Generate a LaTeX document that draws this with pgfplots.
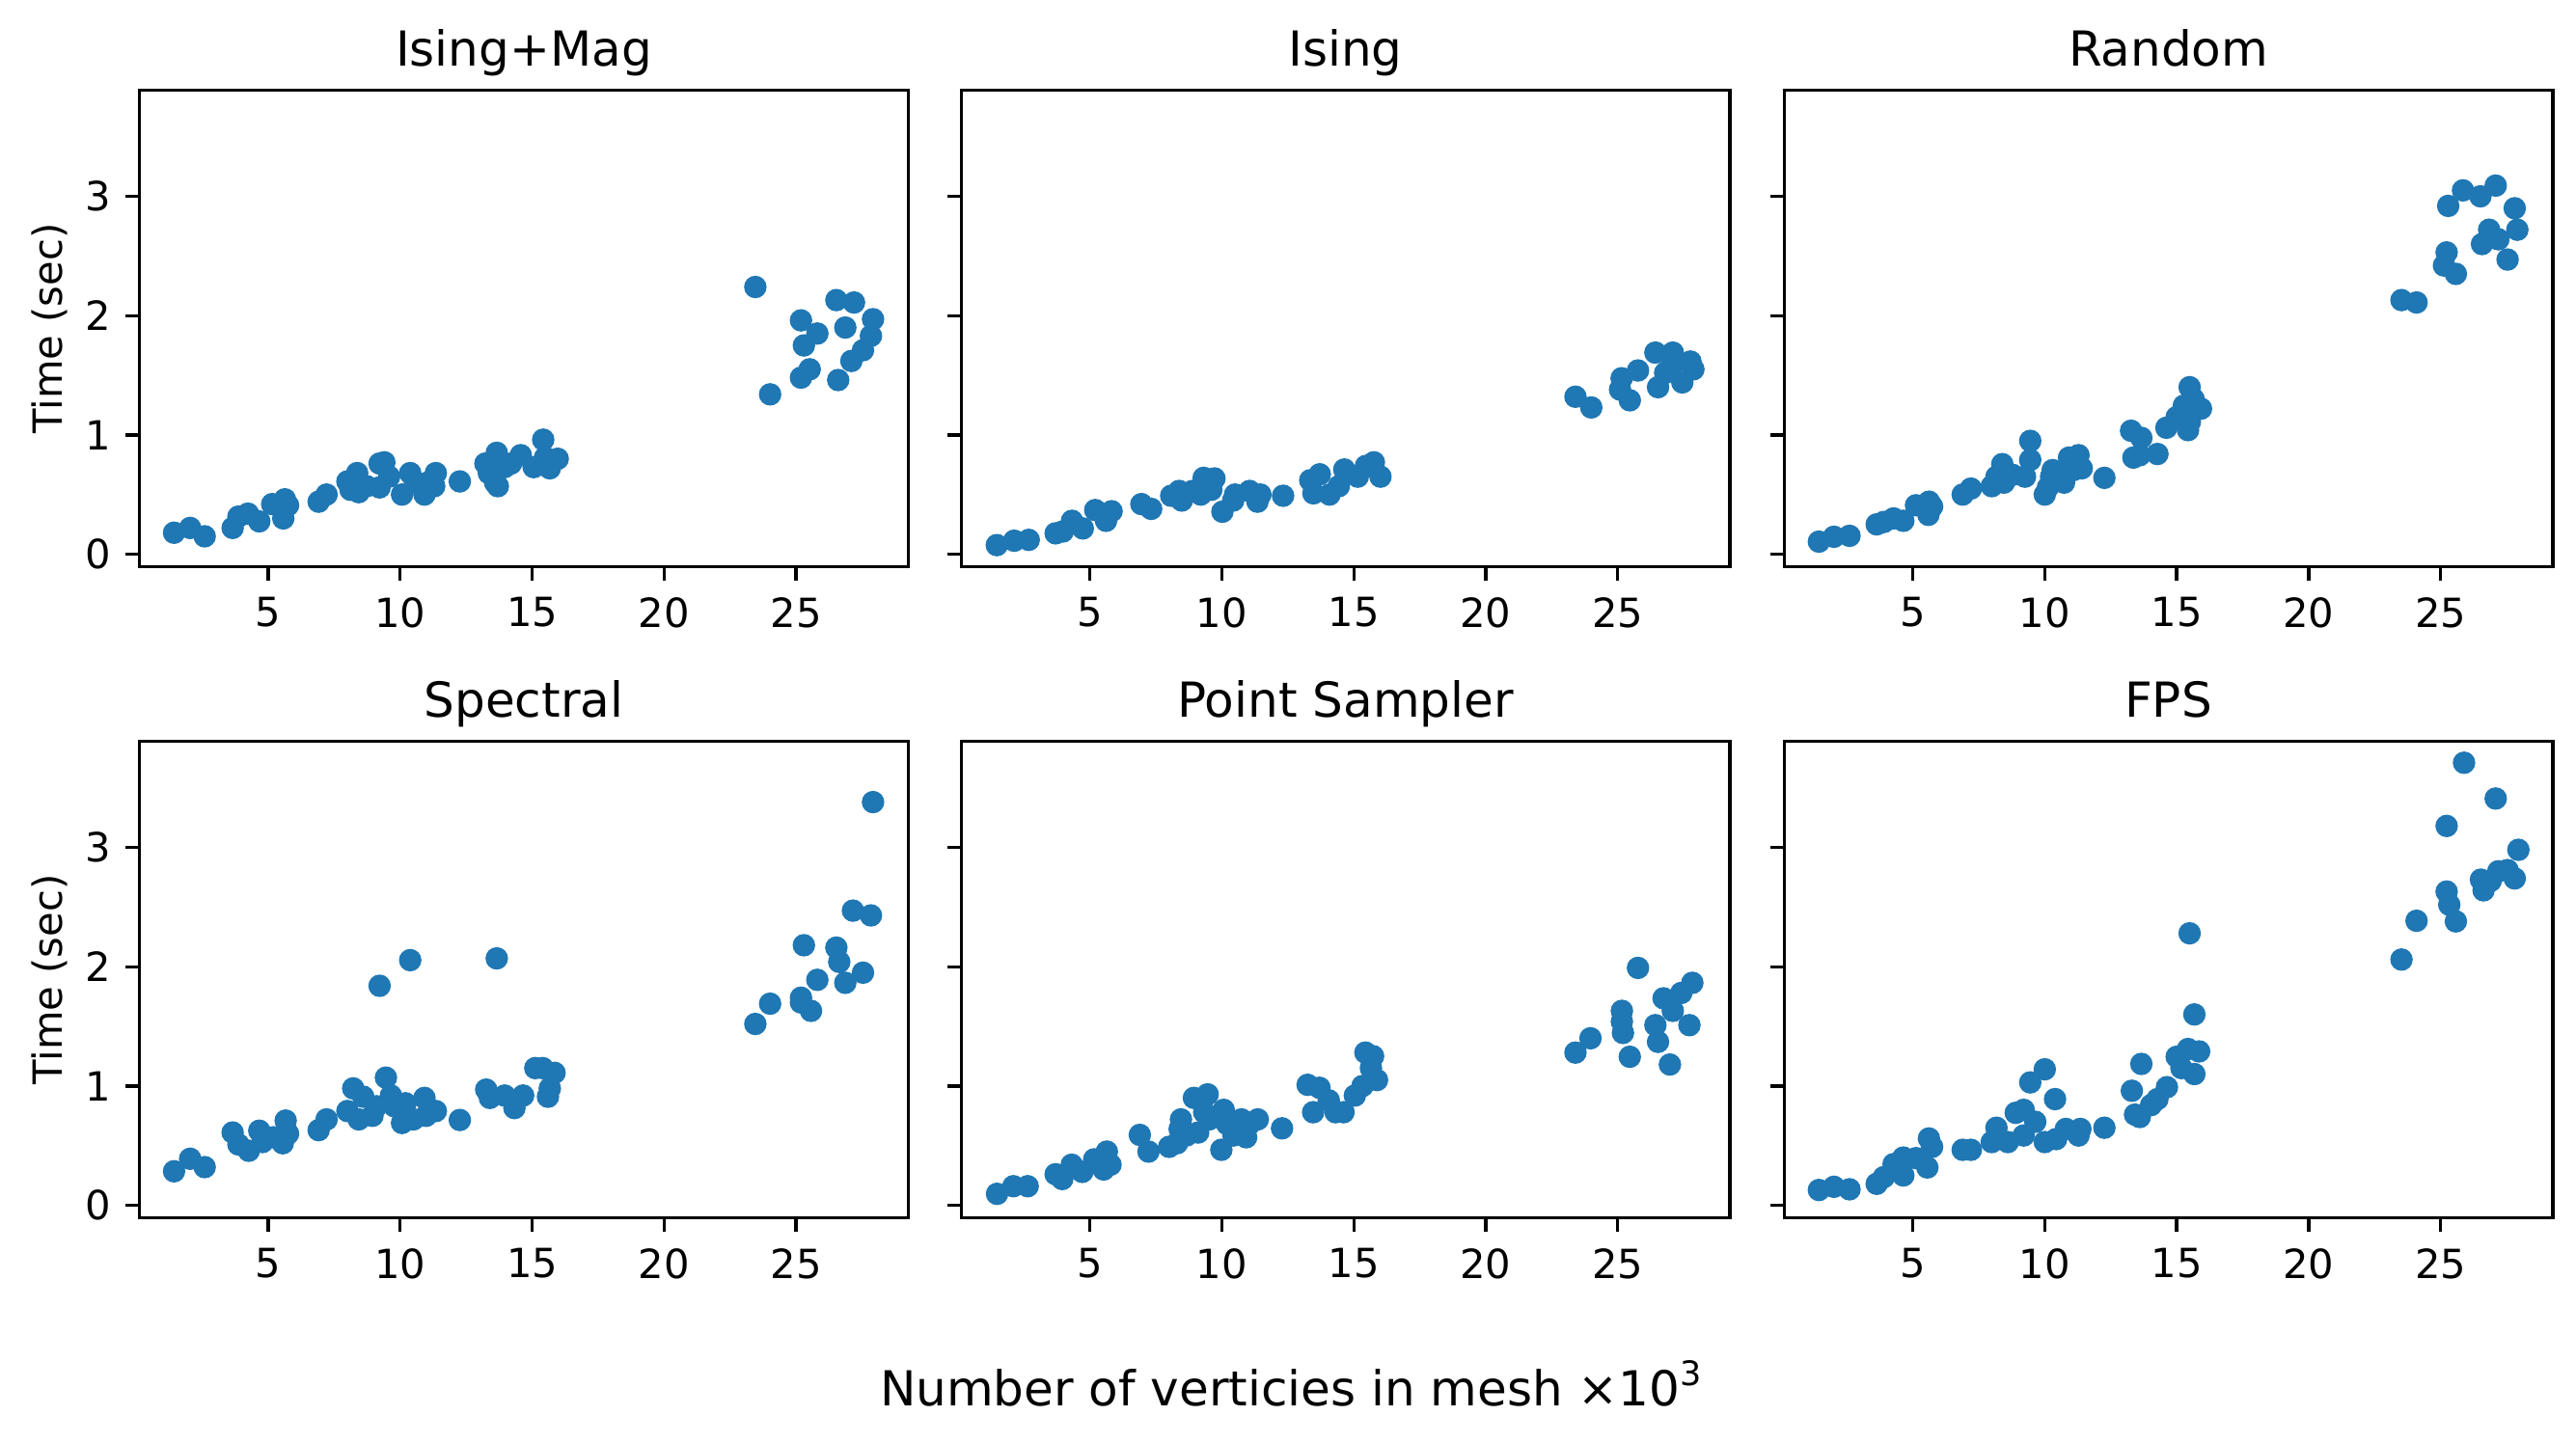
\documentclass[border=0pt]{standalone}
\usepackage{pgfplots}
\pgfplotsset{compat=1.18}
\usepackage{fontspec}
\setmainfont{DejaVu Sans}
\definecolor{tabblue}{RGB}{31,119,180}

% one style for the six panels (matplotlib look)
\pgfplotsset{
  panel/.style={
    scale only axis,
    width=191.2pt, height=118.6pt,
    anchor=south west,
    xmin=0.12, xmax=29.25,
    ymin=-0.106, ymax=3.89,
    xtick={5,10,15,20,25},
    ytick={0,1,2,3},
    tick align=outside,
    tick pos=left,
    major tick length=3.5pt,
    every tick/.style={black, line width=0.8pt},
    axis line style={line width=0.8pt},
    /pgf/number format/assume math mode=true,
    ticklabel style={font=\fontsize{10}{12}\selectfont, inner sep=0pt},
    xticklabel style={yshift=-3.9pt},
    yticklabel style={xshift=-3.5pt},
    every axis title shift=6pt,
    title style={font=\fontsize{12}{14.4}\selectfont, at={(0.5,1)}, anchor=base},
    ylabel style={font=\fontsize{10}{12}\selectfont, at={(axis description cs:-0.0999,0.5)}, anchor=base},
    clip=false,
  },
  noy/.style={yticklabels={}},
  pts/.style={only marks, mark=*, mark size=2.6pt, color=tabblue, mark options={draw=tabblue, fill=tabblue}},
}

\begin{document}
\begin{tikzpicture}
\path[use as bounding box] (0,0) rectangle (640.8pt,359.04pt);

% ---- row 1 ----
\begin{axis}[panel, at={(34.7pt,218pt)}, title={Ising+Mag}, ylabel={Time (sec)}]
\addplot[pts] coordinates {
(1.43,0.18)(2.04,0.22)(2.59,0.15)(3.65,0.22)(3.87,0.315)(4.23,0.34)(4.66,0.275)
(5.15,0.42)(5.57,0.30)(5.63,0.46)(5.75,0.41)(6.91,0.44)(7.21,0.50)(8.0,0.61)
(8.12,0.54)(8.37,0.68)(8.43,0.52)(8.73,0.57)(9.22,0.76)(9.4,0.77)(9.22,0.56)
(9.58,0.65)(10.07,0.50)(10.38,0.68)(10.56,0.60)(10.92,0.50)(11.04,0.60)(11.35,0.68)
(11.29,0.57)(12.26,0.61)(13.23,0.76)(13.36,0.68)(13.6,0.60)(13.7,0.57)(13.66,0.85)
(13.96,0.73)(14.2,0.76)(14.57,0.83)(15.06,0.73)(15.42,0.96)(15.49,0.81)(15.67,0.72)
(15.97,0.80)
(23.46,2.24)(24.02,1.34)(25.19,1.96)(25.3,1.75)(25.19,1.48)(25.52,1.55)(25.81,1.85)
(26.53,2.13)(26.6,1.46)(26.87,1.90)(27.2,2.11)(27.1,1.62)(27.54,1.71)(27.84,1.83)
(27.92,1.97)
};
\end{axis}

\begin{axis}[panel, noy, at={(239.1pt,218pt)}, title={Ising}]
\addplot[pts] coordinates {
(1.47,0.076)(2.13,0.113)(2.68,0.12)(3.7,0.175)(3.97,0.19)(4.32,0.28)(4.73,0.216)
(5.2,0.37)(5.61,0.28)(5.82,0.36)(6.95,0.42)(7.32,0.38)(8.08,0.49)(8.38,0.53)
(8.48,0.45)(8.89,0.53)(9.31,0.64)(9.72,0.635)(9.2,0.50)(9.6,0.54)(10.02,0.356)
(10.43,0.45)(10.5,0.50)(11.05,0.53)(11.46,0.50)(11.35,0.44)(12.32,0.49)(13.35,0.62)
(13.71,0.67)(13.47,0.51)(14.08,0.50)(14.43,0.57)(14.64,0.71)(15.15,0.65)(15.46,0.74)
(15.76,0.77)(16.01,0.65)
(23.4,1.32)(24.0,1.23)(25.15,1.475)(25.09,1.38)(25.46,1.29)(25.77,1.54)(26.43,1.69)
(26.53,1.40)(26.8,1.52)(27.09,1.69)(27.05,1.57)(27.45,1.44)(27.76,1.615)(27.87,1.55)
};
\end{axis}

\begin{axis}[panel, noy, at={(443.8pt,218pt)}, title={Random}]
\addplot[pts] coordinates {
(1.44,0.105)(2.01,0.146)(2.6,0.154)(3.63,0.25)(3.9,0.27)(4.27,0.30)(4.64,0.28)
(5.12,0.41)(5.59,0.33)(5.61,0.44)(5.73,0.40)(6.89,0.50)(7.2,0.55)(7.99,0.57)
(8.17,0.65)(8.39,0.755)(8.45,0.60)(8.78,0.665)(9.25,0.65)(9.45,0.95)(9.45,0.79)
(10.0,0.50)(10.12,0.56)(10.24,0.65)(10.3,0.705)(10.73,0.60)(10.92,0.81)(11.09,0.705)
(11.28,0.83)(11.4,0.72)(12.26,0.64)(13.27,1.035)(13.36,0.81)(13.66,0.975)(13.6,0.83)
(14.27,0.84)(14.61,1.06)(15.0,1.15)(15.27,1.245)(15.49,1.40)(15.43,1.04)(15.5,1.11)
(15.92,1.22)(15.64,1.30)
(23.52,2.13)(24.09,2.11)(25.29,2.92)(25.23,2.53)(25.13,2.42)(25.58,2.35)(25.85,3.05)
(26.51,3.00)(26.57,2.60)(26.84,2.72)(27.09,3.09)(27.19,2.64)(27.54,2.47)(27.81,2.90)
(27.91,2.72)
};
\end{axis}

% ---- row 2 ----
\begin{axis}[panel, at={(34.7pt,56pt)}, title={Spectral}, ylabel={Time (sec)}]
\addplot[pts] coordinates {
(1.43,0.285)(2.04,0.39)(2.59,0.32)(3.65,0.61)(3.87,0.51)(4.26,0.457)(4.66,0.625)
(4.78,0.53)(5.2,0.57)(5.55,0.52)(5.66,0.71)(5.75,0.60)(6.91,0.63)(7.21,0.72)
(8.0,0.79)(8.22,0.98)(8.43,0.72)(8.6,0.91)(8.95,0.75)(9.1,0.83)(9.22,1.84)
(9.46,1.07)(9.65,0.92)(9.78,0.83)(10.07,0.69)(10.2,0.855)(10.38,2.055)(10.5,0.72)
(10.92,0.90)(10.98,0.75)(11.35,0.79)(12.26,0.715)(13.26,0.97)(13.4,0.90)(13.66,2.07)
(13.96,0.92)(14.33,0.815)(14.66,0.92)(15.12,1.15)(15.4,1.15)(15.6,0.91)(15.67,0.98)
(15.85,1.11)
(23.46,1.52)(24.02,1.69)(25.19,1.74)(25.19,1.70)(25.3,2.18)(25.57,1.63)(25.81,1.89)
(26.53,2.16)(26.64,2.04)(26.87,1.865)(27.16,2.47)(27.54,1.95)(27.84,2.43)(27.92,3.38)
};
\end{axis}

\begin{axis}[panel, noy, at={(239.1pt,56pt)}, title={Point Sampler}]
\addplot[pts] coordinates {
(1.48,0.096)(2.1,0.16)(2.64,0.16)(3.7,0.26)(3.95,0.22)(4.31,0.34)(4.71,0.28)
(5.16,0.385)(5.52,0.30)(5.64,0.45)(5.78,0.34)(6.89,0.59)(7.22,0.45)(8.0,0.49)
(8.3,0.52)(8.45,0.72)(8.4,0.64)(8.66,0.585)(8.94,0.90)(9.1,0.61)(9.46,0.93)
(9.33,0.78)(9.52,0.72)(9.98,0.465)(10.07,0.80)(10.2,0.68)(10.44,0.585)(10.74,0.72)
(10.92,0.57)(11.04,0.68)(11.36,0.72)(12.28,0.645)(13.25,1.01)(13.7,0.985)(13.46,0.78)
(14.05,0.88)(14.31,0.78)(14.61,0.78)(15.04,0.92)(15.33,1.00)(15.44,1.28)(15.73,1.25)
(15.65,1.15)(15.88,1.05)
(23.4,1.28)(23.97,1.40)(25.16,1.63)(25.16,1.54)(25.2,1.445)(25.46,1.245)(25.77,1.99)
(26.43,1.51)(26.53,1.37)(26.74,1.735)(26.98,1.18)(27.09,1.63)(27.41,1.78)(27.72,1.51)
(27.83,1.865)
};
\end{axis}

\begin{axis}[panel, noy, at={(443.8pt,56pt)}, title={FPS}]
\addplot[pts] coordinates {
(1.44,0.128)(2.01,0.155)(2.6,0.134)(3.63,0.18)(3.9,0.236)(4.27,0.345)(4.64,0.25)
(4.64,0.40)(5.12,0.395)(5.55,0.317)(5.61,0.56)(5.73,0.49)(6.89,0.465)(7.2,0.465)
(7.99,0.53)(8.17,0.65)(8.6,0.53)(8.9,0.775)(9.2,0.80)(9.2,0.585)(9.45,1.03)
(9.64,0.70)(10.0,1.14)(10.0,0.53)(10.39,0.89)(10.43,0.555)(10.8,0.64)(11.28,0.585)
(11.35,0.64)(12.26,0.65)(13.3,0.96)(13.42,0.76)(13.66,1.185)(13.6,0.74)(14.03,0.84)
(14.27,0.89)(14.63,0.99)(15.0,1.245)(15.18,1.15)(15.43,1.31)(15.49,2.28)(15.67,1.60)
(15.67,1.10)(15.85,1.29)
(23.52,2.06)(24.09,2.385)(25.23,3.18)(25.23,2.63)(25.33,2.52)(25.58,2.38)(25.89,3.71)
(26.53,2.73)(26.63,2.64)(26.9,2.72)(27.09,3.41)(27.19,2.80)(27.54,2.81)(27.81,2.74)
(27.95,2.98)
};
\end{axis}

\node[anchor=base, font=\fontsize{12}{14.4}\selectfont, inner sep=0pt] at (321.1pt,9.17pt) {Number of verticies in mesh ×10\raisebox{0.42em}{\fontsize{8.4}{10}\selectfont 3}};
\end{tikzpicture}
\end{document}
